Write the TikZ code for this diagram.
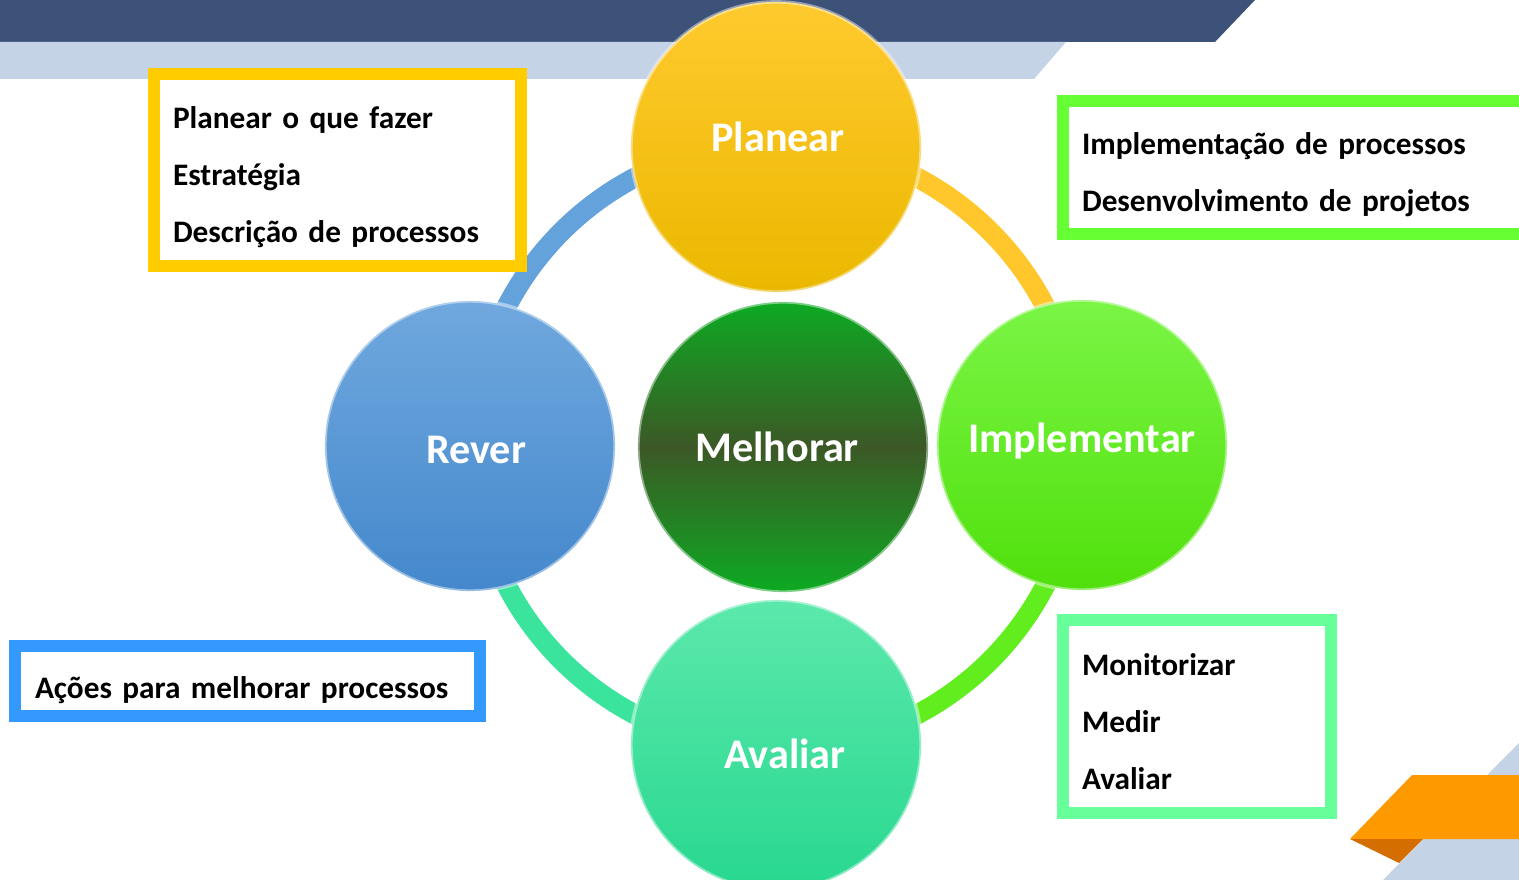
\documentclass[tikz,border=0pt]{standalone}
\usepackage{fontspec}
\setmainfont{Carlito}
\definecolor{bandDark}{HTML}{3D5278}
\definecolor{bandLight}{HTML}{C5D3E6}
\definecolor{tabOrange}{HTML}{FF9900}
\definecolor{tabShadow}{HTML}{D46E00}
\definecolor{ringBlue}{HTML}{64A2DC}
\definecolor{ringGold}{HTML}{FFC72C}
\definecolor{ringLime}{HTML}{62EE1E}
\definecolor{ringTeal}{HTML}{3AE49C}
\definecolor{boxGold}{HTML}{FFCC00}
\definecolor{boxLime}{HTML}{66FF33}
\definecolor{boxBlue}{HTML}{3399FF}
\definecolor{boxMint}{HTML}{66FF99}

\begin{document}
\begin{tikzpicture}[x=0.01cm,y=-0.01cm,
  stage/.style={circle,minimum size=2.9cm,inner sep=0pt,
    draw=white,draw opacity=0.45,line width=1pt},
  stagetext/.style={text=white,inner sep=0pt,font=\fontsize{12}{14}\selectfont\bfseries},
  notebox/.style={draw,line width=0.12cm,fill=white,anchor=north west,
    align=left,inner xsep=0.19cm,font=\fontsize{8.9}{16.2}\selectfont\bfseries},
  ringpart/.style={line width=0.2cm}]
\useasboundingbox (0,0) rectangle (1519,880);
%\draw[help lines, color=gray!30, dashed] (0,0) grid[step=100] (1519,880);
\fill[bandDark] (0,0) -- (1255,0) -- (1215,42) -- (0,42) -- cycle;
\fill[bandLight] (0,42) -- (1066,42) -- (1034,79) -- (0,79) -- cycle;
\fill[bandLight] (1519,743) -- (1519,880) -- (1383,880) -- cycle;
\fill[tabOrange] (1412,775) -- (1519,775) -- (1519,839) -- (1350,839) -- cycle;
\fill[tabShadow] (1350,839) -- (1423,839) -- (1399,863) -- cycle;

\coordinate (hub) at (776,446);
\draw[ringpart,ringBlue] (hub) ++(180:3.03cm) arc[start angle=180,end angle=90,radius=3.03cm];
\draw[ringpart,ringGold] (hub) ++(90:3.03cm) arc[start angle=90,end angle=0,radius=3.03cm];
\draw[ringpart,ringLime] (hub) ++(0:3.03cm) arc[start angle=0,end angle=-90,radius=3.03cm];
\draw[ringpart,ringTeal] (hub) ++(-90:3.03cm) arc[start angle=-90,end angle=-180,radius=3.03cm];

\node[stage,top color={rgb,255:red,255;green,202;blue,46},bottom color={rgb,255:red,235;green,184;blue,0}] (planear) at (776,147) {};
\node[stage,top color={rgb,255:red,13;green,170;blue,34},bottom color={rgb,255:red,13;green,170;blue,34},middle color={rgb,255:red,60;green,88;blue,38}] (melhorar) at (783,447) {};
\node[stage,top color={rgb,255:red,112;green,168;blue,222},bottom color={rgb,255:red,68;green,136;blue,204}] (rever) at (470,446) {};
\node[stage,top color={rgb,255:red,122;green,245;blue,69},bottom color={rgb,255:red,80;green,224;blue,12}] (implementar) at (1082,445) {};
\node[stage,top color={rgb,255:red,92;green,232;blue,172},bottom color={rgb,255:red,40;green,216;blue,144}] (avaliar) at (776,745) {};

\node[stagetext] (planeartext) at ([xshift=0.02cm,yshift=0.1cm]planear.center) {Planear};
\node[stagetext] (melhorartext) at ([xshift=-0.06cm]melhorar.center) {Melhorar};
\node[stagetext] (revertext) at ([xshift=0.06cm,yshift=-0.04cm]rever.center) {Rever};
\node[stagetext] (implementartext) at ([yshift=0.04cm]implementar.center) {Implementar};
\node[stagetext] (avaliartext) at ([xshift=0.09cm,yshift=-0.09cm]avaliar.center) {Avaliar};

\node[notebox,draw=boxGold,minimum width=3.67cm,minimum height=1.92cm,text width=3.29cm] (planearnotes) at (148,68)
  {\rule{0pt}{0.36cm}Planear o que fazer\\Estratégia\\Descrição de processos};
\node[notebox,draw=boxLime,minimum width=5cm,minimum height=1.33cm,text width=4.62cm] (implnotes) at (1057,95)
  {\rule{0pt}{0.37cm}Implementação de processos\\Desenvolvimento de projetos};
\node[notebox,draw=boxBlue,minimum width=4.65cm,minimum height=0.70cm,text width=4.25cm,inner xsep=0.2cm] (revernotes) at (9,640)
  {\rule{0pt}{0.41cm}Ações para melhorar processos};
\node[notebox,draw=boxMint,minimum width=2.68cm,minimum height=1.93cm,text width=2.30cm] (avaliarnotes) at (1057,614)
  {\rule{0pt}{0.33cm}Monitorizar\\Medir\\Avaliar};
\end{tikzpicture}
\end{document}
